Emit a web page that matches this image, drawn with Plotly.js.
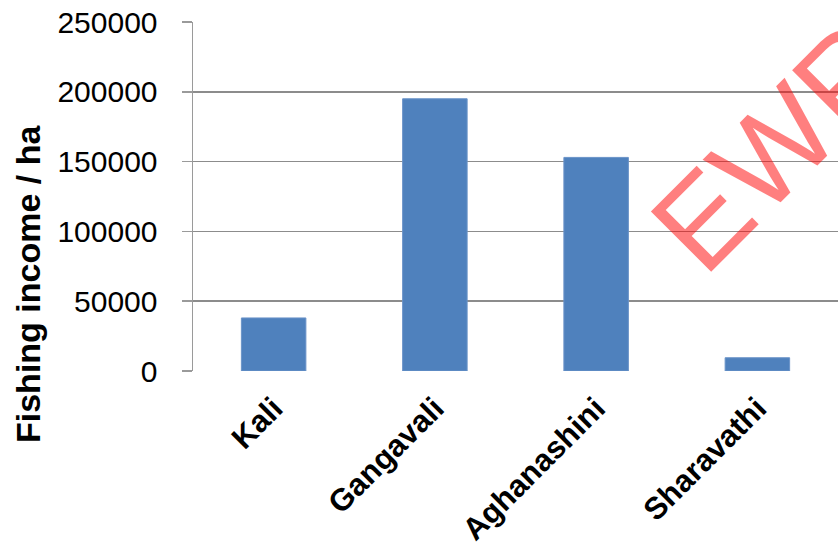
<!DOCTYPE html>
<html>
<head>
<meta charset="utf-8">
<script src="https://cdn.plot.ly/plotly-3.0.1.min.js"></script>
<style>html,body{margin:0;padding:0;background:#fff;}#chart{width:838px;height:550px;}</style>
</head>
<body>
<div id="chart"></div>
<script>
const categories = ["Kali", "Gangavali", "Aghanashini", "Sharavathi"];
const fishingIncome = [38000, 195000, 153000, 9500];
const yTickVals = [0, 50000, 100000, 150000, 200000, 250000];
const yTickText = ["0", "50000", "100000", "150000", "200000", "250000"];
const yTitle = "Fishing income / ha";
const watermark = "EWRG";

const FONT = "Liberation Sans, Arial, sans-serif";
const L = 193, T = 22, W = 838, H = 550, B = 179;
const plotW = W - L, plotH = H - T - B;
function px2x(p){ return (p - L) / plotW; }
function py2y(p){ return (H - B - p) / plotH; }

const trace = {
  type: "bar",
  x: categories,
  y: fishingIncome,
  marker: {color: "#4F81BD", line: {color: "#6A93C8", width: 1}},
  hoverinfo: "skip"
};

const layout = {
  width: W, height: H,
  margin: {l: L, r: 0, t: T, b: B, pad: 0},
  paper_bgcolor: "#fff", plot_bgcolor: "#fff",
  showlegend: false,
  bargap: 0.6,
  font: {family: FONT, color: "#000"},
  xaxis: {
    type: "category",
    range: [-0.5, 3.5],
    tickangle: -45,
    tickfont: {family: FONT, size: 31, color: "#000", weight: "bold"},
    showline: false, showgrid: false, zeroline: false,
    ticks: "", ticklabelstandoff: 12
  },
  yaxis: {
    range: [0, 250000],
    tickvals: yTickVals, ticktext: yTickText,
    tickfont: {family: FONT, size: 30, color: "#000"},
    showgrid: true, gridcolor: "#8c8c8c", gridwidth: 1.5,
    zeroline: false,
    showline: true, linecolor: "#9a9a9a", linewidth: 1.5,
    ticks: "outside", ticklen: 10, tickcolor: "#9a9a9a", tickwidth: 1.5,
    ticklabelstandoff: 18
  },
  annotations: [
    {
      text: "<b>" + yTitle + "</b>",
      xref: "paper", yref: "paper",
      x: px2x(28), y: py2y(284),
      xanchor: "center", yanchor: "middle",
      textangle: -90, showarrow: false,
      font: {family: FONT, size: 34, color: "#000"}
    },
    {
      text: watermark,
      xref: "paper", yref: "paper",
      x: px2x(810), y: py2y(112),
      xanchor: "center", yanchor: "middle",
      textangle: -45, showarrow: false,
      font: {family: FONT, size: 124, color: "rgba(255,0,0,0.5)"}
    }
  ]
};

Plotly.newPlot("chart", [trace], layout, {displayModeBar: false, staticPlot: true});
</script>
</body>
</html>
